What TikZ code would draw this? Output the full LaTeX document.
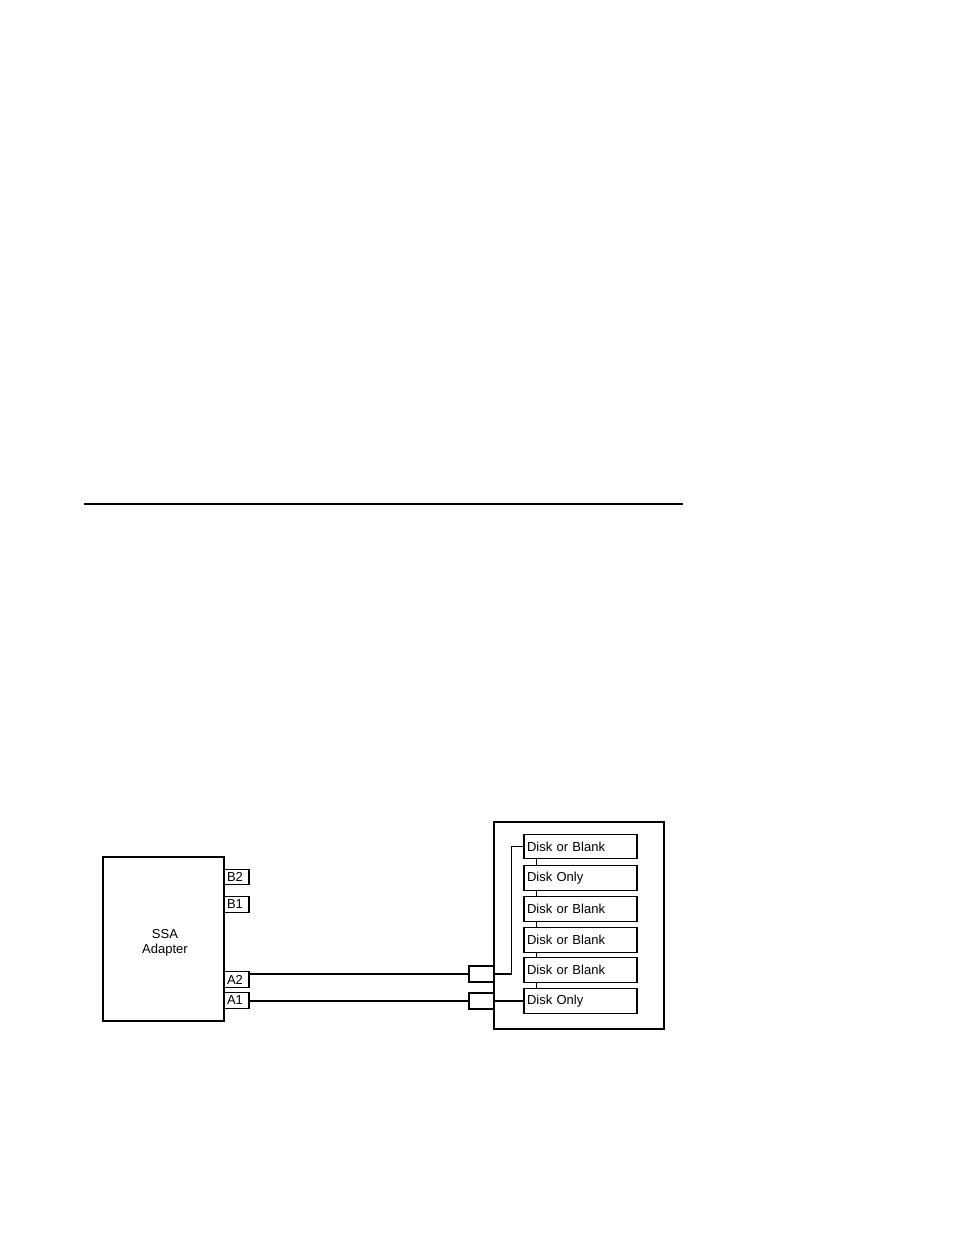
\documentclass[tikz,border=0pt]{standalone}
\usepackage{fontspec}
\setmainfont{Liberation Sans}
\newlength{\du}
\setlength{\du}{1pt}

\begin{document}
\begin{tikzpicture}[x=\du,y=-\du,line width=1.1\du,
  every node/.style={font=\fontsize{13}{15}\selectfont},
  port/.style={draw,minimum width=25\du,minimum height=15.5\du,inner sep=0pt,inner xsep=3\du,text width=19\du,align=left},
  disk/.style={draw,minimum width=113\du,minimum height=24.5\du,inner sep=0pt,inner xsep=3\du,text width=107\du,align=left},
  plug/.style={draw,minimum width=25\du,minimum height=16\du,inner sep=0pt}]
\useasboundingbox (0,0) rectangle (954,1235);
% rule
\coordinate (ruleL) at (84,504);
\coordinate (ruleR) at (683,504);
\draw (ruleL)--(ruleR);
% adapter
\node[draw,minimum width=121\du,minimum height=164\du,inner sep=0pt,
  label={[align=center,xshift=1.5\du,yshift=-4\du]center:SSA\\Adapter}] (adapter) at (163.5,939){};
\node[port] (B2) at (236.5,877){B2};
\node[port] (B1) at (236.5,904.5){B1};
\node[port] (A2) at (236.5,979.5){A2};
\node[port] (A1) at (236.5,1000.5){A1};
% enclosure
\node[draw,minimum width=170\du,minimum height=207\du,inner sep=0pt] (encl) at (579,925.5){};
\node[plug] (P2) at (481.5,974){};
\node[plug] (P1) at (481.5,1001){};
\node[disk] (D1) at (580.5,846.5){Disk or Blank};
\node[disk] (D2) at (580.5,878){Disk Only};
\node[disk] (D3) at (580.5,909){Disk or Blank};
\node[disk] (D4) at (580.5,940){Disk or Blank};
\node[disk] (D5) at (580.5,970){Disk or Blank};
\node[disk] (D6) at (580.5,1001){Disk Only};
% cables
\draw (A2.east |- P2.west)--(P2.west);
\draw (A1.east |- P1.west)--(P1.west);
\draw (P2.east)--++(17,0) |- (D1.west);
\draw (P1.east)--(D6.west);
% links between the disks
\foreach \a/\b in {D1/D2,D2/D3,D3/D4,D4/D5,D5/D6}
  \draw ([xshift=13\du]\a.south west)--([xshift=13\du]\b.north west);
\end{tikzpicture}
\end{document}
